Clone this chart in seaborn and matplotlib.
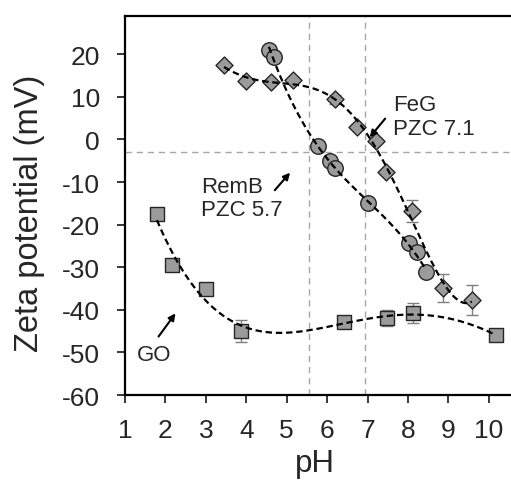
import numpy as np
import pandas as pd
import matplotlib
matplotlib.use("Agg")
import matplotlib.pyplot as plt
import seaborn as sns

# FeG (diamonds)
feg_ph = [3.45, 3.99, 4.61, 5.15, 6.19, 6.73, 7.20, 7.45, 8.10, 8.86, 9.58]
feg_zeta = [17.4, 13.7, 13.6, 14.0, 9.4, 2.9, -0.3, -7.6, -16.8, -34.9, -37.7]
feg_err = [0.3, 0.3, 0.3, 0.3, 1.0, 0.3, 0.3, 0.5, 2.5, 3.3, 3.6]

# RemB (circles)
remb_ph = [4.56, 4.68, 5.77, 6.07, 6.19, 7.00, 8.02, 8.22, 8.44]
remb_zeta = [21.1, 19.4, -1.6, -5.1, -6.6, -15.0, -24.4, -26.5, -31.2]

# GO (squares)
go_ph = [1.79, 2.16, 3.00, 3.87, 6.41, 7.48, 8.12, 10.17]
go_zeta = [-17.4, -29.5, -35.1, -45.0, -42.8, -42.0, -40.8, -45.9]
go_err = [0.3, 0.3, 0.3, 2.6, 0.5, 1.9, 2.3, 0.3]

x_ticks = [1, 2, 3, 4, 5, 6, 7, 8, 9, 10]
y_ticks = [-60, -50, -40, -30, -20, -10, 0, 10, 20]

sns.set_style("ticks")
plt.rcParams['font.family'] = ['Liberation Sans', 'DejaVu Sans']
plt.rcParams['axes.unicode_minus'] = False

fig = plt.figure(figsize=(5.11, 4.81), dpi=100)
ax = fig.add_axes([0.2446, 0.1767, 0.7554, 0.788])

# reference lines (PZC markers)
ref = dict(color="#a6a6a6", lw=1.0, ls=(0, (4.5, 3.5)), zorder=1)
ax.axhline(-3, **ref)
ax.axvline(5.55, **ref)
ax.axvline(6.95, **ref)

fill = "#9b9b9b"
edge = "#262626"

# error bars
ax.errorbar(feg_ph, feg_zeta, yerr=feg_err, fmt="none", ecolor="#7f7f7f",
            elinewidth=1.0, capsize=4, capthick=1.0, zorder=2)
ax.errorbar(go_ph, go_zeta, yerr=go_err, fmt="none", ecolor="#7f7f7f",
            elinewidth=1.0, capsize=4, capthick=1.0, zorder=2)

# markers
sns.scatterplot(x=feg_ph, y=feg_zeta, marker="D", s=75, color=fill,
                edgecolor=edge, linewidth=1.0, ax=ax, zorder=3)
sns.scatterplot(x=remb_ph, y=remb_zeta, marker="o", s=125, color=fill,
                edgecolor=edge, linewidth=1.0, ax=ax, zorder=3)
sns.scatterplot(x=go_ph, y=go_zeta, marker="s", s=90, color=fill,
                edgecolor=edge, linewidth=1.0, ax=ax, zorder=3)

# polynomial trendlines (like spreadsheet trendlines)
def trend(xs, ys, deg):
    c = np.polyfit(xs, ys, deg)
    xx = np.linspace(min(xs), max(xs), 200)
    return pd.DataFrame({"x": xx, "y": np.polyval(c, xx)})

for xs, ys, deg in [(feg_ph, feg_zeta, 5), (remb_ph, remb_zeta, 3), (go_ph, go_zeta, 4)]:
    d = trend(xs, ys, deg)
    sns.lineplot(data=d, x="x", y="y", color="black", lw=1.6,
                 ax=ax, zorder=4, sort=False)
for l in ax.lines[-3:]:
    l.set_dashes([2.9, 1.7])

ax.set_xlim(1, 10.55)
ax.set_ylim(-60, 29)
ax.set_xticks(x_ticks)
ax.set_yticks(y_ticks)
ax.tick_params(axis="both", labelsize=19, length=6, width=1.3, direction="out")
ax.tick_params(axis="x", pad=10.5)
ax.tick_params(axis="y", pad=12)
ax.set_xlabel("pH", fontsize=22.5)
ax.set_ylabel("Zeta potential (mV)", fontsize=23.5)
ax.xaxis.set_label_coords(0.492, -0.14)
ax.yaxis.set_label_coords(-0.207, 0.4815)

for s in ["left", "top", "bottom"]:
    ax.spines[s].set_linewidth(1.6)
    ax.spines[s].set_color("black")
ax.spines["right"].set_visible(False)

# annotations
akw = dict(arrowstyle="-|>", color="black", lw=1.5, mutation_scale=10)
ax.annotate("", xy=(5.13, -7.3), xytext=(4.66, -12.4), arrowprops=akw)
ax.text(2.88, -13.7, "RemB\nPZC 5.7", fontsize=16, ha="left", va="center", linespacing=1.15)
ax.annotate("", xy=(7.01, 0.0), xytext=(7.48, 5.4), arrowprops=akw)
ax.text(7.63, 5.4, "FeG\nPZC 7.1", fontsize=16, ha="left", va="center", linespacing=1.15)
ax.annotate("", xy=(2.29, -40.3), xytext=(1.79, -46.8), arrowprops=akw)
ax.text(1.72, -50.6, "GO", fontsize=16, ha="center", va="center")

fig.savefig("out.png", dpi=100)
